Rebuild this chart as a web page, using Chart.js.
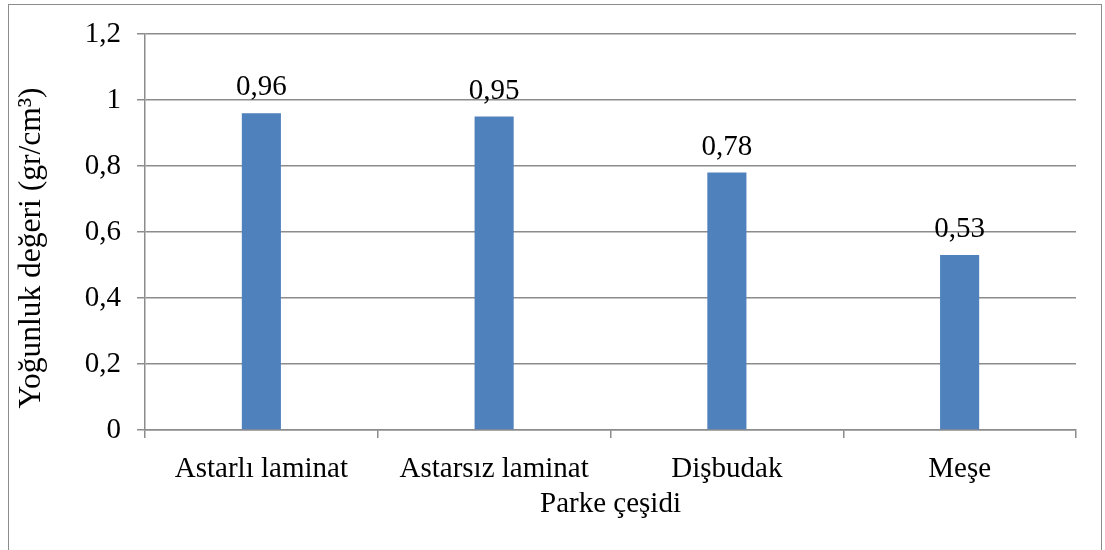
<!DOCTYPE html>
<html>
<head>
<meta charset="utf-8">
<script src="https://cdn.jsdelivr.net/npm/chart.js@4"></script>
<style>
    html, body { margin: 0; padding: 0; background: #fff; }
    #wrap { position: relative; width: 1105px; height: 550px; overflow: hidden; }
    #frame { position: absolute; left: 8px; top: 4px; width: 1094px; height: 560px; border: 1px solid #8c8c8c; box-sizing: border-box; }
    canvas { position: absolute; left: 0; top: 0; }
</style>
</head>
<body>
<div id="wrap">
    <div id="frame"></div>
    <canvas id="chart" width="1105" height="550"></canvas>
</div>
<script>
// Data
const categories = ['Astarlı laminat', 'Astarsız laminat', 'Dişbudak', 'Meşe'];
const densityValues = [0.96, 0.95, 0.78, 0.53];
const yTicks = [0, 0.2, 0.4, 0.6, 0.8, 1, 1.2];
const yTitle = 'Yoğunluk değeri (gr/cm³)';

const serif = "'Liberation Serif', 'Times New Roman', serif";
const gridColor = '#8c8c8c';

// Format numbers with a comma like the Turkish original
const fmt = (v) => String(Math.round(v * 100) / 100).replace('.', ',');

// Value labels above bars + y axis title (sits a bit lower than centred)
const valueLabels = {
    id: 'valueLabels',
    afterDatasetsDraw(chart) {
        const ctx = chart.ctx;
        const meta = chart.getDatasetMeta(0);
        ctx.save();
        ctx.font = '29px ' + serif;
        ctx.fillStyle = '#000';
        ctx.textAlign = 'center';
        ctx.textBaseline = 'bottom';
        meta.data.forEach((bar, i) => {
            ctx.fillText(fmt(densityValues[i]), bar.x, bar.y - 11);
        });
        ctx.restore();

        ctx.save();
        ctx.font = '31.5px ' + serif;
        ctx.fillStyle = '#000';
        ctx.textAlign = 'center';
        ctx.textBaseline = 'middle';
        ctx.translate(32, (chart.chartArea.top + chart.chartArea.bottom) / 2 + 16);
        ctx.rotate(-Math.PI / 2);
        ctx.fillText(yTitle, 0, 0);
        ctx.restore();
    }
};

Chart.defaults.font.family = serif;
Chart.defaults.color = '#000';

new Chart(document.getElementById('chart'), {
    type: 'bar',
    data: {
        labels: categories,
        datasets: [{
            data: densityValues,
            backgroundColor: '#4F81BD',
            borderWidth: 0,
            barPercentage: 0.168,
            categoryPercentage: 1
        }]
    },
    options: {
        responsive: false,
        animation: false,
        layout: { padding: { left: 10, right: 29, top: 34, bottom: 0 } },
        plugins: {
            legend: { display: false },
            tooltip: { enabled: false }
        },
        scales: {
            x: {
                offset: true,
                grid: {
                    offset: true,
                    drawOnChartArea: false,
                    drawTicks: true,
                    tickLength: 8,
                    color: gridColor,
                    lineWidth: 1.5
                },
                border: { color: gridColor, width: 1.5 },
                ticks: { font: { size: 29 }, padding: 14, maxRotation: 0 },
                title: {
                    display: true,
                    text: 'Parke çeşidi',
                    font: { size: 29 },
                    padding: { top: 0, bottom: 28 }
                },
                afterFit(scale) { scale.height = 120; }
            },
            y: {
                min: 0,
                max: 1.2,
                afterBuildTicks(scale) {
                    scale.ticks = yTicks.map(v => ({ value: v }));
                },
                grid: {
                    color: gridColor,
                    lineWidth: 1.5,
                    tickLength: 8
                },
                border: { color: gridColor, width: 1.5 },
                ticks: {
                    font: { size: 29 },
                    padding: 16,
                    callback: (v) => fmt(v)
                },
                afterFit(scale) { scale.width = 135; }
            }
        }
    },
    plugins: [valueLabels]
});
</script>
</body>
</html>
